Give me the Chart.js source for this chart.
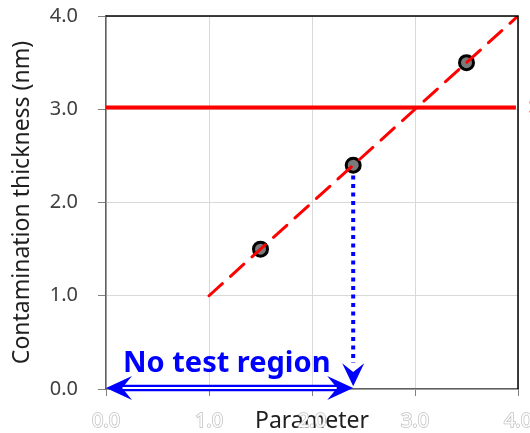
<!DOCTYPE html>
<html>
<head>
<meta charset="utf-8">
<script src="https://cdn.jsdelivr.net/npm/chart.js@4"></script>
<style>
  html, body { margin: 0; padding: 0; background: #fff; }
  #wrap { width: 530px; height: 433px; }
</style>
</head>
<body>
<div id="wrap"><canvas id="thicknessChart" width="530" height="433"></canvas></div>
<script>
// Measured samples
const paramValues = [1.5, 2.4, 3.5];
const thicknessValues = [1.5, 2.4, 3.5];

// Fitted trend (dashed) and the spec limit
const trendX = [1.0, 4.0];
const trendY = [1.0, 4.0];
const specX = [0.0, 3.98];
const specY = [3.02, 3.02];
const specLabel = 'Spec';

// Drop line from the middle sample to the axis
const dropX = [2.4, 2.4];
const dropY = [2.29, 0.28];
const dropTipY = 0.03;

// "No test region" span along the axis
const regionX = [0.0, 2.4];
const regionY = 0.01;
const regionText = 'No test region';
const regionTextPos = [0.165, 0.18];

const axisMin = 0, axisMax = 4, axisStep = 1;

const toPoints = (xs, ys) => xs.map((v, i) => ({ x: v, y: ys[i] }));

Chart.defaults.font.family = "'Noto Sans', sans-serif";

// stealth style arrow head, tip at (tx, ty), pointing along angle
function arrowHead(ctx, tx, ty, angle, len, half) {
  ctx.save();
  ctx.translate(tx, ty);
  ctx.rotate(angle);
  ctx.beginPath();
  ctx.moveTo(0, 0);
  ctx.lineTo(-len, -half);
  ctx.lineTo(-len * 0.62, 0);
  ctx.lineTo(-len, half);
  ctx.closePath();
  ctx.fill();
  ctx.restore();
}

const annotations = {
  id: 'annotations',
  afterDatasetsDraw(chart) {
    const { ctx, scales: { x, y } } = chart;
    ctx.save();
    ctx.fillStyle = '#0000ff';

    // double shafted arrow
    const x0 = x.getPixelForValue(regionX[0]);
    const x1 = x.getPixelForValue(regionX[1]);
    const yy = y.getPixelForValue(regionY);
    ctx.beginPath();
    ctx.moveTo(x0 + 10, yy);
    ctx.lineTo(x1 - 10, yy);
    ctx.lineWidth = 6.5;
    ctx.strokeStyle = '#0000ff';
    ctx.stroke();
    ctx.lineWidth = 2;
    ctx.strokeStyle = '#ffffff';
    ctx.stroke();
    arrowHead(ctx, x0, yy, Math.PI, 26, 12);
    arrowHead(ctx, x1, yy, 0, 26, 12);

    // head of the drop line
    const dx = x.getPixelForValue(dropX[1]);
    const dy = y.getPixelForValue(dropTipY);
    arrowHead(ctx, dx, dy, Math.PI / 2, 23, 11);

    ctx.font = "bold 29px 'Noto Sans', sans-serif";
    ctx.textBaseline = 'alphabetic';
    ctx.textAlign = 'left';
    ctx.fillText(regionText, x.getPixelForValue(regionTextPos[0]), y.getPixelForValue(regionTextPos[1]));

    // spec label sits outside the plot, to the right
    ctx.fillStyle = 'rgba(255, 0, 0, 0.6)';
    ctx.font = "20px 'Noto Sans', sans-serif";
    ctx.textBaseline = 'middle';
    ctx.fillText(specLabel, x.getPixelForValue(4.1), y.getPixelForValue(specY[0]));
    ctx.restore();
  },
  afterDraw(chart) {
    // black frame on the top and right
    const { ctx, chartArea: a } = chart;
    ctx.save();
    ctx.strokeStyle = '#000000';
    ctx.lineWidth = 1.5;
    ctx.beginPath();
    ctx.moveTo(a.left, a.top);
    ctx.lineTo(a.right, a.top);
    ctx.lineTo(a.right, a.bottom);
    ctx.stroke();
    ctx.restore();
  }
};

new Chart(document.getElementById('thicknessChart'), {
  type: 'scatter',
  data: {
    datasets: [
      {
        type: 'line',
        data: toPoints(trendX, trendY),
        borderColor: '#ff0000',
        borderWidth: 3,
        borderDash: [18, 11],
        borderCapStyle: 'round',
        pointRadius: 0,
        fill: false
      },
      {
        data: toPoints(paramValues, thicknessValues),
        pointRadius: 7,
        pointBorderWidth: 3,
        pointBorderColor: '#000000',
        pointBackgroundColor: '#7a7a7a'
      },
      {
        type: 'line',
        data: toPoints(specX, specY),
        borderColor: '#ff0000',
        borderWidth: 4,
        pointRadius: 0,
        fill: false
      },
      {
        type: 'line',
        data: toPoints(dropX, dropY),
        borderColor: '#0000ff',
        borderWidth: 4,
        borderDash: [4, 4.5],
        pointRadius: 0,
        fill: false
      }
    ]
  },
  options: {
    responsive: false,
    animation: false,
    layout: { padding: { top: 16, right: 12, left: 0, bottom: 0 } },
    plugins: { legend: { display: false }, tooltip: { enabled: false } },
    scales: {
      x: {
        type: 'linear',
        min: axisMin,
        max: axisMax,
        ticks: {
          stepSize: axisStep,
          callback: v => v.toFixed(1),
          color: '#ffffff',
          textStrokeColor: '#c0c0c0',
          textStrokeWidth: 1.5,
          font: { size: 20 },
          padding: 13,
          maxRotation: 0
        },
        grid: { color: '#d9d9d9', tickColor: '#808080', tickLength: 7 },
        border: { color: '#606060', width: 1.5 },
        title: {
          display: true,
          text: 'Parameter',
          color: '#202020',
          font: { size: 23 },
          padding: { top: 0, bottom: -2 }
        },
        afterFit(s) {
          s.height = 44;
          s.paddingLeft = 0;
          s.paddingRight = 0;
        }
      },
      y: {
        type: 'linear',
        min: axisMin,
        max: axisMax,
        ticks: {
          stepSize: axisStep,
          callback: v => v.toFixed(1),
          color: '#404040',
          font: { size: 20 },
          padding: 20
        },
        grid: { color: '#d9d9d9', tickColor: '#808080', tickLength: 8 },
        border: { color: '#606060', width: 1.5 },
        title: {
          display: true,
          text: 'Contamination thickness (nm)',
          color: '#202020',
          font: { size: 23 },
          padding: { top: 9, bottom: 0 }
        },
        afterFit(s) {
          s.width = 106;
          s.paddingTop = 0;
          s.paddingBottom = 0;
        }
      }
    }
  },
  plugins: [annotations]
});
</script>
</body>
</html>
